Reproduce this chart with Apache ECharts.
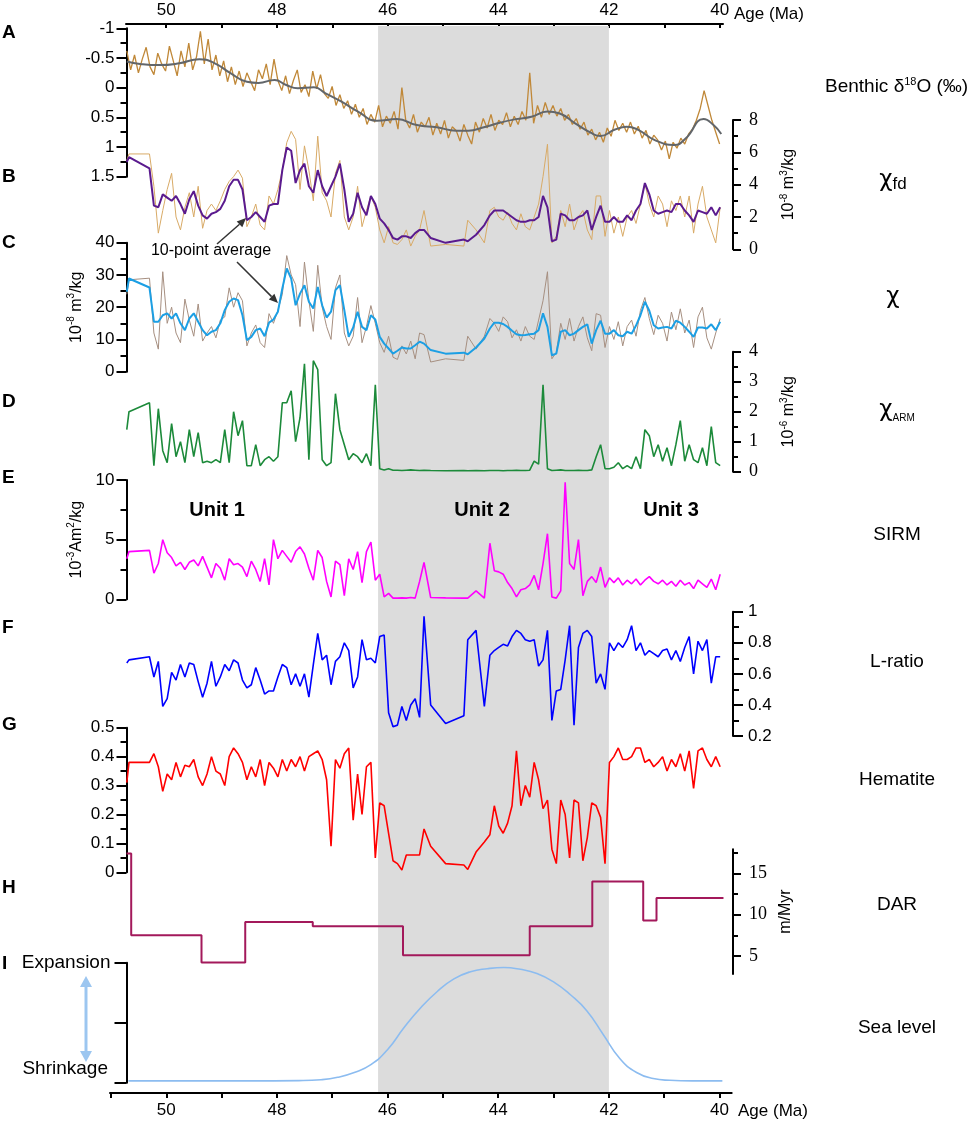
<!DOCTYPE html>
<html>
<head>
<meta charset="utf-8" />
<script src="https://cdn.jsdelivr.net/npm/echarts@6.0.0/dist/echarts.min.js"></script>
<style>
    body { margin: 0; background: #fff; }
    #main { width: 969px; height: 1124px; }
</style>
</head>
<body>
<div id="main"></div>
<script>
    // ---- shaded interval (Unit 2), Ma ----
    var shadeStart = 46.17, shadeEnd = 42.0;

    // ---- A: benthic d18O, sampled every 0.07 Ma from 50.71 ----
    var benthicStart = 50.71, benthicStep = 0.07;
    var benthicRaw = [
        -0.62, -0.30, -0.55, -0.25, -0.48, -0.68, -0.35, -0.22, -0.58, -0.40,
        -0.28, -0.70, -0.45, -0.20, -0.62, -0.35, -0.75, -0.30, -0.52, -0.95,
        -0.40, -0.82, -0.30, -0.55, -0.20, -0.45, -0.10, -0.35, -0.05, -0.28,
        -0.02, -0.25, -0.10, 0.05, -0.30, -0.15, -0.40, -0.05, -0.48, -0.12,
        0.05, -0.20, 0.10, -0.12, -0.30, 0.08, -0.05, 0.15, -0.28, 0.02,
        -0.22, 0.10, 0.18, -0.02, 0.30, 0.12, 0.35, 0.22, 0.45, 0.28,
        0.50, 0.35, 0.62, 0.45, 0.58, 0.30, 0.66, 0.48, 0.60, 0.40,
        0.70, 0.00, 0.55, 0.68, 0.45, 0.75, 0.58, 0.66, 0.50, 0.80,
        0.60, 0.78, 0.55, 0.85, 0.66, 0.72, 0.90, 0.62, 0.80, 0.95,
        0.58, 0.75, 0.52, 0.68, 0.45, 0.72, 0.55, 0.62, 0.42, 0.66,
        0.48, 0.62, 0.40, 0.55, -0.25, 0.60, 0.30, 0.50, 0.25, 0.45,
        0.30, 0.48, 0.35, 0.55, 0.45, 0.62, 0.52, 0.70, 0.58, 0.80,
        0.70, 0.88, 0.75, 0.92, 0.68, 0.82, 0.55, 0.72, 0.60, 0.75,
        0.58, 0.78, 0.65, 0.85, 0.72, 0.95, 0.80, 0.88, 1.05, 0.90,
        1.20, 0.92, 1.02, 0.85, 0.95, 0.78, 0.70, 0.55, 0.35, 0.05,
        0.30, 0.55, 0.75, 0.95
    ];
    var smoothAge = [50.71, 50.47, 50.12, 49.76, 49.40, 49.12, 48.83, 48.54, 48.33, 48.04,
        47.83, 47.62, 47.33, 47.12, 46.83, 46.54, 46.19, 45.83, 45.47, 45.11,
        44.76, 44.54, 44.26, 43.97, 43.68, 43.40, 43.11, 42.90, 42.61, 42.33,
        42.15, 41.90, 41.68, 41.47, 41.18, 40.82, 40.61, 40.29, 40.11, 39.97];
    var smoothVal = [-0.44, -0.40, -0.38, -0.41, -0.48, -0.41, -0.24, -0.10, -0.08, -0.13,
        -0.045, 0.01, -0.006, 0.095, 0.236, 0.40, 0.556, 0.53, 0.63, 0.668,
        0.724, 0.724, 0.668, 0.59, 0.53, 0.49, 0.40, 0.43, 0.60, 0.758,
        0.814, 0.71, 0.657, 0.71, 0.88, 0.966, 0.853, 0.53, 0.63, 0.78];

    // ---- B-G: magnetic parameters, shared sample ages (Ma) ----
    var magAge = [50.71, 50.67, 50.30,
        50.22, 50.14, 50.06, 49.98, 49.90, 49.82, 49.74, 49.66, 49.58, 49.50,
        49.42, 49.34, 49.26, 49.18, 49.10, 49.02, 48.94, 48.86, 48.78, 48.70,
        48.62, 48.54, 48.46, 48.38, 48.30, 48.22, 48.14, 48.06, 47.98, 47.90,
        47.82, 47.74, 47.66, 47.58, 47.50, 47.42, 47.34, 47.26, 47.18, 47.10,
        47.02, 46.94, 46.86, 46.78, 46.70, 46.62, 46.54, 46.46, 46.38, 46.30,
        46.22, 46.14, 46.06, 45.98, 45.90, 45.82, 45.74, 45.66, 45.58, 45.50,
        45.42, 45.34,
        45.22, 44.95, 44.62, 44.55, 44.40, 44.25, 44.15,
        44.07, 43.99, 43.91, 43.83, 43.75, 43.67, 43.59, 43.51, 43.43, 43.35,
        43.27, 43.19, 43.11, 43.03, 42.95, 42.87, 42.79, 42.71, 42.63, 42.55,
        42.47, 42.39, 42.31, 42.23, 42.15, 42.07, 41.99, 41.91, 41.83, 41.75,
        41.67, 41.59, 41.51, 41.43, 41.35, 41.27, 41.19, 41.11, 41.03, 40.95,
        40.87, 40.79, 40.71, 40.63, 40.55, 40.47, 40.39, 40.31, 40.23, 40.15,
        40.07, 39.99];

    var chiFdRaw = [5.5, 5.9, 5.9,
        3.9, 1.0, 2.4, 3.7, 4.7, 2.0, 1.2, 2.6, 3.5, 2.0,
        3.9, 1.3, 2.4, 2.8, 2.4, 3.0, 3.7, 4.2, 4.5, 4.9,
        4.4, 1.4, 2.0, 2.8, 1.5, 1.2, 3.3, 2.8, 3.7, 4.9,
        6.6, 7.3, 6.8, 3.7, 6.4, 4.9, 3.0, 7.0, 3.5, 3.0,
        2.0, 4.7, 5.5, 2.0, 1.2, 2.0, 3.9, 1.4, 2.4, 3.3,
        2.6, 1.2, 0.4, 1.4, 0.4, 0.3, 0.6, 1.2, 0.2, 0.8,
        1.2, 2.4,
        0.2, 0.3, 0.2, 1.8, 1.2, 0.4, 2.4,
        2.6, 2.0, 1.8, 2.3, 1.6, 1.2, 2.2, 1.4, 1.2, 2.0,
        2.8, 4.5, 6.5, 0.4, 0.8, 2.4, 1.4, 2.8, 1.2, 2.0,
        2.4, 1.2, 0.6, 3.3, 3.3, 0.8, 2.4, 1.0, 2.0, 0.8,
        2.0, 2.4, 1.6, 2.8, 4.1, 2.8, 2.0, 3.3, 2.8, 1.4,
        3.0, 2.4, 3.3, 2.0, 3.3, 1.0, 2.8, 3.9, 2.0, 1.2,
        0.4, 2.6];
    var chiFdAvg = [5.4, 5.7, 5.0,
        2.7, 2.6, 3.4, 3.2, 3.0, 3.3, 2.8, 2.2, 3.1, 3.6,
        2.7, 2.1, 1.9, 2.2, 2.3, 2.5, 3.0, 3.9, 4.3, 4.3,
        3.7, 1.8, 2.0, 2.3, 2.0, 1.7, 2.7, 2.8, 2.8, 4.9,
        6.3, 6.1, 4.1, 4.9, 5.3, 3.9, 3.5, 4.9, 3.9, 3.3,
        3.9, 4.5, 5.3, 3.7, 1.7, 2.2, 3.5, 2.6, 2.1, 3.3,
        2.8, 1.9, 1.6, 1.2, 0.7, 0.6, 0.8, 0.8, 0.7, 1.0,
        1.2, 1.2,
        0.7, 0.4, 0.6, 0.5, 0.9, 1.5, 2.1,
        2.4, 2.4, 2.4, 2.2, 2.0, 1.8, 1.7, 1.7, 1.8, 1.8,
        2.0, 3.3, 2.6, 0.5, 0.6, 2.2, 2.1, 1.8, 1.8, 2.0,
        2.1, 2.4, 1.2, 2.0, 2.7, 1.7, 1.7, 2.0, 1.7, 1.7,
        2.1, 1.8, 2.4, 2.8, 4.1, 3.4, 2.4, 2.2, 2.3, 2.4,
        2.3, 2.8, 2.8, 2.4, 2.1, 1.7, 2.4, 2.3, 2.2, 2.6,
        2.1, 2.6];

    var chiRaw = [24.0, 28.5, 29.0,
        12.0, 7.0, 31.0, 15.0, 20.0, 12.0, 9.0, 22.5, 16.0, 11.0,
        21.0, 9.5, 12.0, 14.0, 10.5, 16.0, 17.0, 26.0, 20.0, 24.5,
        22.0, 8.0, 12.0, 14.5, 9.0, 7.5, 18.0, 15.0, 19.0, 24.0,
        36.0, 30.0, 27.0, 14.0, 34.0, 22.0, 12.5, 33.0, 20.0, 14.0,
        10.0, 26.0, 30.0, 12.0, 8.0, 11.0, 23.0, 9.0, 14.0, 20.5,
        15.0, 9.0, 6.0, 11.0, 4.5, 3.8, 8.0, 5.5, 9.5, 4.0,
        12.0, 11.5,
        3.0, 4.0, 3.5, 11.0, 7.0, 11.0, 16.5,
        15.0, 12.5, 17.0, 15.5, 10.5, 13.0, 9.5, 14.0, 11.0, 10.0,
        16.0, 22.0, 31.0, 4.0, 6.0, 15.0, 10.0, 16.5, 9.5, 14.0,
        17.0, 10.5, 6.5, 18.0, 17.5, 7.5, 14.0, 10.0, 15.5, 8.0,
        14.0, 16.0, 11.0, 19.0, 23.0, 16.5, 11.5, 17.5, 15.0, 9.5,
        18.5, 13.0, 19.5, 12.0, 16.0, 7.5, 17.0, 20.0, 10.5, 7.0,
        12.0, 16.5];
    var chiAvg = [24.8, 28.9, 26.1,
        15.5, 15.5, 17.5, 18.1, 16.5, 18.1, 15.0, 12.9, 16.5, 18.1,
        15.5, 12.9, 11.3, 12.4, 12.9, 15.0, 19.1, 21.7, 22.7, 22.2,
        17.5, 9.8, 10.8, 12.9, 13.4, 11.0, 15.2, 16.2, 18.6, 25.8,
        32.0, 28.9, 20.6, 24.2, 26.8, 21.7, 19.6, 26.3, 20.6, 16.8,
        18.6, 25.3, 26.8, 19.1, 10.8, 13.7, 18.6, 13.9, 12.9, 17.5,
        16.2, 10.8, 8.7, 7.2, 5.6, 6.5, 7.5, 7.2, 7.2, 8.2,
        9.3, 8.7,
        6.7, 5.6, 5.9, 5.4, 7.5, 10.3, 13.4,
        15.2, 15.2, 14.8, 13.9, 12.7, 11.6, 11.3, 11.4, 11.6, 11.8,
        12.9, 18.1, 13.9, 5.1, 5.6, 12.4, 12.9, 11.3, 11.8, 12.9,
        13.9, 14.7, 8.7, 12.9, 15.8, 11.8, 11.8, 12.9, 11.3, 11.0,
        12.4, 11.8, 14.3, 17.5, 21.7, 18.9, 14.4, 13.4, 13.7, 13.9,
        13.4, 15.8, 15.2, 13.9, 12.4, 10.8, 13.7, 13.7, 13.4, 14.7,
        12.9, 15.5];

    var chiArm = [1.4, 2.0, 2.3,
        0.2, 2.1, 0.7, 0.3, 1.6, 0.5, 1.0, 0.3, 1.4, 0.5,
        1.3, 0.3, 0.35, 0.3, 0.4, 0.3, 1.4, 0.3, 2.0, 1.2,
        1.7, 0.2, 0.2, 0.9, 0.2, 0.4, 0.5, 0.35, 0.5, 2.3,
        2.3, 2.7, 1.0, 1.8, 3.6, 0.4, 3.7, 3.4, 0.4, 0.2,
        0.3, 2.6, 1.4, 0.9, 0.4, 0.6, 0.5, 0.3, 0.6, 0.2,
        2.9, 0.1, 0.06, 0.1, 0.05, 0.05, 0.04, 0.05, 0.06, 0.05,
        0.04, 0.05,
        0.04, 0.03, 0.04, 0.03, 0.04, 0.03, 0.04,
        0.04, 0.04, 0.03, 0.04, 0.04, 0.05, 0.04, 0.04, 0.05, 0.35,
        0.25, 2.9, 0.1, 0.04, 0.05, 0.06, 0.04, 0.04, 0.04, 0.05,
        0.04, 0.04, 0.06, 0.5, 0.9, 0.1, 0.1, 0.15, 0.3, 0.1,
        0.2, 0.1, 0.5, 0.1, 1.4, 1.2, 0.5, 0.9, 0.35, 0.8,
        0.2, 0.9, 1.7, 0.35, 0.9, 0.4, 0.3, 0.8, 0.2, 1.5,
        0.3, 0.2];

    var sirm = [3.4, 4.0, 4.1,
        2.2, 3.0, 5.0, 3.9, 3.5, 2.8, 3.1, 2.5, 3.1, 3.3,
        2.8, 3.6, 2.7, 1.8, 3.0, 2.6, 1.6, 3.4, 2.9, 3.0,
        2.7, 1.9, 3.2, 2.5, 1.5, 3.4, 1.2, 5.0, 3.4, 4.1,
        3.6, 3.1, 4.0, 4.4, 3.8, 2.6, 1.6, 4.1, 3.5, 1.5,
        0.2, 3.2, 2.9, 0.3, 3.4, 2.5, 4.0, 1.4, 4.0, 4.8,
        1.6, 2.1, 0.2, 0.5, 0.1, 0.1, 0.12, 0.1, 0.15, 0.1,
        1.5, 3.1,
        0.15, 0.12, 0.1, 0.1, 0.7, 0.1, 4.7,
        2.4, 2.3, 2.1, 1.4, 0.9, 0.2, 0.8, 0.9, 1.2, 2.0,
        0.8, 3.0, 5.5, 0.2, 0.1, 0.7, 9.8, 3.0, 2.5, 5.0,
        0.3, 1.5, 1.9, 1.4, 2.7, 1.0, 1.8, 1.4, 1.8, 1.2,
        1.6, 1.3, 1.7, 1.2, 1.6, 1.9, 1.5, 1.3, 1.6, 1.2,
        1.5, 1.1, 1.6, 1.2, 1.4, 0.9, 1.6, 1.3, 1.0, 1.7,
        0.8, 2.1];

    var lRatio = [0.67, 0.69, 0.71,
        0.58, 0.68, 0.39, 0.44, 0.61, 0.56, 0.66, 0.58, 0.67, 0.66,
        0.55, 0.45, 0.54, 0.68, 0.52, 0.58, 0.66, 0.62, 0.69, 0.67,
        0.56, 0.51, 0.53, 0.64, 0.56, 0.47, 0.49, 0.49, 0.58, 0.66,
        0.64, 0.53, 0.60, 0.52, 0.60, 0.45, 0.66, 0.86, 0.69, 0.72,
        0.53, 0.68, 0.71, 0.80, 0.75, 0.51, 0.58, 0.82, 0.69, 0.70,
        0.67, 0.84, 0.85, 0.35, 0.26, 0.27, 0.39, 0.30, 0.40, 0.44,
        0.32, 0.97,
        0.40, 0.28, 0.33, 0.82, 0.88, 0.39, 0.72,
        0.75, 0.77, 0.79, 0.78, 0.84, 0.88, 0.86, 0.82, 0.81, 0.82,
        0.65, 0.69, 0.88, 0.30, 0.49, 0.50, 0.69, 0.91, 0.27, 0.77,
        0.86, 0.88, 0.84, 0.54, 0.60, 0.50, 0.80, 0.75, 0.80, 0.77,
        0.82, 0.91, 0.75, 0.80, 0.72, 0.75, 0.73, 0.71, 0.75, 0.76,
        0.69, 0.75, 0.68, 0.77, 0.84, 0.60, 0.81, 0.75, 0.82, 0.54,
        0.71, 0.71];

    var hematite = [0.31, 0.38, 0.38,
        0.41, 0.365, 0.28, 0.34, 0.32, 0.38, 0.33, 0.37, 0.365, 0.39,
        0.33, 0.30, 0.34, 0.40, 0.35, 0.34, 0.30, 0.40, 0.43, 0.41,
        0.38, 0.32, 0.365, 0.33, 0.39, 0.30, 0.38, 0.36, 0.33, 0.39,
        0.35, 0.39, 0.365, 0.40, 0.35, 0.40, 0.41, 0.42, 0.39, 0.32,
        0.09, 0.39, 0.36, 0.41, 0.43, 0.18, 0.34, 0.20, 0.365, 0.38,
        0.05, 0.24, 0.23, 0.135, 0.04, 0.03, 0.008, 0.06, 0.06, 0.06,
        0.06, 0.15,
        0.09, 0.03, 0.025, 0.01, 0.07, 0.105, 0.13,
        0.23, 0.16, 0.135, 0.17, 0.23, 0.42, 0.23, 0.30, 0.26, 0.38,
        0.32, 0.22, 0.25, 0.08, 0.03, 0.25, 0.20, 0.05, 0.25, 0.24,
        0.04, 0.12, 0.24, 0.23, 0.19, 0.03, 0.38, 0.40, 0.43, 0.39,
        0.39, 0.40, 0.43, 0.43, 0.38, 0.39, 0.365, 0.38, 0.40, 0.35,
        0.39, 0.365, 0.41, 0.35, 0.42, 0.29, 0.42, 0.43, 0.39, 0.365,
        0.40, 0.365];

    // ---- H: DAR (m/Myr), step changes ----
    var darAge = [50.715, 50.63, 49.36, 48.57, 47.35, 45.72, 43.43, 42.30, 41.38, 41.14, 39.93];
    var darRate = [17.4, 7.5, 4.2, 9.1, 8.6, 5.1, 8.6, 14.0, 9.3, 12.0, 12.0];

    // ---- I: relative sea level (0 shrinkage .. 2 expansion) ----
    var seaAge = [50.68, 49.5, 48.5, 47.6, 47.2, 46.9, 46.6, 46.3, 46.0, 45.7, 45.4, 45.1, 44.8, 44.5,
        44.2, 43.9, 43.6, 43.3, 43.0, 42.7, 42.4, 42.1, 41.8, 41.5, 41.2, 40.9, 40.5, 39.95];
    var seaLevel = [0.03, 0.03, 0.03, 0.035, 0.05, 0.09, 0.17, 0.30, 0.55, 0.92, 1.25, 1.52, 1.73, 1.85,
        1.90, 1.92, 1.89, 1.82, 1.68, 1.47, 1.20, 0.80, 0.40, 0.17, 0.07, 0.04, 0.03, 0.03];

    var topTicks = [40, 41, 42, 43, 44, 45, 46, 47, 48, 49, 50];
    var bottomTicks = [40, 41, 42, 43, 44, 45, 46, 47, 48, 49, 50, 51];
    var ageLabels = [40, 42, 44, 46, 48, 50];

    var SANS = 'Liberation Sans, Arial, sans-serif';
    var SERIF = 'Liberation Serif, Times New Roman, serif';
    var GREEK = 'DejaVu Sans, sans-serif';

    var benthicAge = benthicRaw.map(function (v, i) { return +(benthicStart - i * benthicStep).toFixed(2); });

    function pairs(ages, vals) {
        return ages.map(function (a, i) { return [a, vals[i]]; });
    }

    // panel plot area (x) shared by all panels
    var PL = 126.5, PW = 606.5, X_MIN = 39.758, X_MAX = 50.715;

    var panels = [
        // top, height
        [26, 1066],      // 0 shading
        [24, 10],        // 1 top age axis
        [1083, 10],      // 2 bottom age axis
        [28.3, 148.4],   // 3 A
        [120, 129.3],    // 4 B
        [242.7, 129],    // 5 C
        [351.7, 120],    // 6 D
        [480, 119.3],    // 7 E
        [611.7, 124.3],  // 8 F
        [727.7, 144.6],  // 9 G
        [849.3, 124.7],  // 10 H
        [962.7, 120]     // 11 I
    ];
    var grids = panels.map(function (p, i) {
        var g = { left: PL, top: p[0], width: PW, height: p[1] };
        if (i === 1) { g.left = 126; g.width = 597; }
        if (i === 2) { g.left = 110; g.width = 621.7; }
        return g;
    });

    var xAxes = panels.map(function (p, i) {
        return { gridIndex: i, type: 'value', min: X_MIN, max: X_MAX, inverse: true, show: false };
    });
    xAxes[1] = {
        gridIndex: 1, type: 'value', position: 'top', min: 39.942, max: 50.726, inverse: true,
        axisLine: { show: true, onZero: false, lineStyle: { color: '#000', width: 2 } },
        axisTick: { show: true, inside: true, length: 4, customValues: topTicks, lineStyle: { color: '#000', width: 2 } },
        axisLabel: { customValues: ageLabels, color: '#000', fontSize: 17, fontFamily: SANS, margin: 5 },
        splitLine: { show: false }
    };
    xAxes[2] = {
        gridIndex: 2, type: 'value', position: 'bottom', min: 39.78, max: 51.017, inverse: true,
        axisLine: { show: true, onZero: false, lineStyle: { color: '#000', width: 2 } },
        axisTick: { show: true, length: 5, customValues: bottomTicks, lineStyle: { color: '#000', width: 2 } },
        axisLabel: { customValues: ageLabels, color: '#000', fontSize: 17, fontFamily: SANS, margin: 9 },
        splitLine: { show: false }
    };

    var supRich = {
        n: { fontSize: 16, lineHeight: 20, fontFamily: SANS, color: '#000' },
        s: { fontSize: 10, lineHeight: 10, verticalAlign: 'top', fontFamily: SANS, color: '#000' }
    };

    function yax(p) {
        return {
            gridIndex: p.grid, type: 'value', position: p.pos || 'left',
            min: p.min, max: p.max, interval: p.interval, inverse: !!p.inverse,
            name: p.name || '', nameLocation: 'middle', nameRotate: 90, nameGap: p.nameGap || 40,
            nameTextStyle: { color: '#000', fontFamily: SANS, fontSize: 16, rich: supRich },
            axisLine: { show: p.line !== false, onZero: false, lineStyle: { color: '#000', width: 2 } },
            axisTick: { show: p.tickShow !== false, length: p.tick || 8, customValues: p.ticks, lineStyle: { color: '#000', width: 2 } },
            minorTick: { show: p.minor !== false, splitNumber: 2, length: p.minorLen || 5, lineStyle: { color: '#000', width: 2 } },
            axisLabel: {
                show: p.label !== false, color: '#000', fontFamily: p.font || SANS, fontSize: p.fontSize || 17,
                margin: p.margin || 12, customValues: p.labels, formatter: p.formatter
            },
            splitLine: { show: false }, minorSplitLine: { show: false }
        };
    }

    var dummyY = function (g) { return { gridIndex: g, type: 'value', min: 0, max: 1, show: false }; };
    var yAxes = [
        dummyY(0), dummyY(1), dummyY(2),
        yax({ grid: 3, min: -1, max: 1.5, interval: 0.5, inverse: true, tick: 10, minorLen: 6, margin: 12 }),
        yax({ grid: 4, pos: 'right', min: 0, max: 8, interval: 2, font: SERIF, fontSize: 18, margin: 16,
            name: '{n|10}{s|-8}{n| m}{s|3}{n|/kg}', nameGap: 46 }),
        yax({ grid: 5, min: 0, max: 40, interval: 10, tick: 10, minorLen: 6,
            name: '{n|10}{s|-8}{n| m}{s|3}{n|/kg}', nameGap: 38 }),
        yax({ grid: 6, pos: 'right', min: 0, max: 4, interval: 1, font: SERIF, fontSize: 18, margin: 16,
            name: '{n|10}{s|-6}{n| m}{s|3}{n|/kg}', nameGap: 46 }),
        yax({ grid: 7, min: 0, max: 10, interval: 5, tick: 10, minorLen: 6,
            name: '{n|10}{s|-3}{n|Am}{s|2}{n|/kg}', nameGap: 38 }),
        yax({ grid: 8, pos: 'right', min: 0.2, max: 1, interval: 0.2, tick: 10, minorLen: 6, margin: 15 }),
        yax({ grid: 9, min: 0, max: 0.5, interval: 0.1, tick: 10, minorLen: 6 }),
        yax({ grid: 10, pos: 'right', min: 2.82, max: 17.9, minor: false, ticks: [5, 10, 15], labels: [5, 10, 15],
            font: SERIF, fontSize: 18, margin: 16, name: 'm/Myr', nameGap: 44 }),
        yax({ grid: 11, min: 0, max: 2, interval: 1, minor: false, tick: 12, margin: 16, fontSize: 19,
            formatter: function (v) { return v === 2 ? 'Expansion' : ''; } }),
        // H minor ticks
        yax({ grid: 10, pos: 'right', min: 2.82, max: 17.9, minor: false, ticks: [7.5, 12.5, 17.5],
            tick: 5, line: false, label: false })
    ];

    function lineSeries(g, data, color, width, extra) {
        var s = {
            type: 'line', xAxisIndex: g, yAxisIndex: g, data: data, symbol: 'none', z: 3,
            lineStyle: { color: color, width: width }, silent: true
        };
        for (var k in extra) s[k] = extra[k];
        return s;
    }

    var series = [
        {
            type: 'line', xAxisIndex: 0, yAxisIndex: 0, data: [], z: 1, silent: true,
            markArea: { silent: true, itemStyle: { color: '#dcdcdc' }, data: [[{ xAxis: shadeStart }, { xAxis: shadeEnd }]] }
        },
        lineSeries(3, pairs(benthicAge, benthicRaw), '#c08838', 1.3),
        lineSeries(3, pairs(smoothAge, smoothVal), '#62666a', 2, { smooth: true }),
        lineSeries(4, pairs(magAge, chiFdRaw), '#d8aa66', 1),
        lineSeries(4, pairs(magAge, chiFdAvg), '#5a1a8e', 2),
        lineSeries(5, pairs(magAge, chiRaw), '#a68f80', 1),
        lineSeries(5, pairs(magAge, chiAvg), '#1c9fe4', 2),
        lineSeries(6, pairs(magAge, chiArm), '#1c8a3a', 1.6),
        lineSeries(7, pairs(magAge, sirm), '#ff00ff', 1.6),
        lineSeries(8, pairs(magAge, lRatio), '#0000ff', 1.6),
        lineSeries(9, pairs(magAge, hematite), '#ff0000', 1.6),
        lineSeries(10, pairs(darAge, darRate), '#a3195b', 2, { step: 'end' }),
        lineSeries(11, pairs(seaAge, seaLevel), '#8cbcf0', 1.6, { smooth: true })
    ];

    function label(x, y, text, opt) {
        var st = { text: text, fill: '#000', fontSize: 19, fontFamily: SANS, align: 'center', verticalAlign: 'middle' };
        for (var k in opt) st[k] = opt[k];
        return { type: 'text', x: x, y: y, z: 10, silent: true, style: st };
    }
    var letterOpt = { fontSize: 19, fontWeight: 'bold', align: 'left' };
    var chiRich = {
        c: { fontSize: 23, lineHeight: 26, fontFamily: GREEK, color: '#000' },
        d: { fontSize: 17, lineHeight: 15, verticalAlign: 'bottom', fontFamily: SANS, color: '#000' },
        e: { fontSize: 10, lineHeight: 11, verticalAlign: 'bottom', fontFamily: SANS, color: '#000' }
    };
    var benthicRich = {
        n: { fontSize: 19, lineHeight: 22, fontFamily: SANS, color: '#000' },
        s: { fontSize: 11, lineHeight: 10, verticalAlign: 'top', fontFamily: SANS, color: '#000' }
    };

    var graphics = [
        label(2, 33, 'A', letterOpt), label(2, 177, 'B', letterOpt), label(2, 243, 'C', letterOpt),
        label(2, 402, 'D', letterOpt), label(2, 478, 'E', letterOpt), label(2, 628, 'F', letterOpt),
        label(2, 725, 'G', letterOpt), label(2, 888, 'H', letterOpt), label(2, 964, 'I', letterOpt),

        label(825, 87, '{n|Benthic δ}{s|18}{n|O (‰)}', { align: 'left', rich: benthicRich }),
        label(893, 180, '{c|χ}{d|fd}', { rich: chiRich }),
        label(893, 297, '{c|χ}', { rich: chiRich }),
        label(897, 410, '{c|χ}{e|ARM}', { rich: chiRich }),
        label(897, 535, 'SIRM'),
        label(897, 662, 'L-ratio'),
        label(897, 780, 'Hematite'),
        label(897, 905, 'DAR'),
        label(897, 1028, 'Sea level'),

        label(217, 510, 'Unit 1', { fontSize: 20, fontWeight: 'bold' }),
        label(482, 510, 'Unit 2', { fontSize: 20, fontWeight: 'bold' }),
        label(671, 510, 'Unit 3', { fontSize: 20, fontWeight: 'bold' }),

        label(734, 14, 'Age (Ma)', { align: 'left', fontSize: 17 }),
        label(738, 1111, 'Age (Ma)', { align: 'left', fontSize: 17 }),
        label(108, 1069, 'Shrinkage', { align: 'right' }),

        label(211, 251, '10-point average', { fontSize: 16 }),
        { type: 'line', silent: true, z: 10, shape: { x1: 217, y1: 244, x2: 239.5, y2: 224.3 }, style: { stroke: '#333', lineWidth: 1.5 } },
        { type: 'polygon', silent: true, z: 10, shape: { points: [[246, 218], [242.3, 227.2], [236.7, 221.4]] }, style: { fill: '#333' } },
        { type: 'line', silent: true, z: 10, shape: { x1: 237, y1: 262, x2: 271.6, y2: 296.6 }, style: { stroke: '#333', lineWidth: 1.5 } },
        { type: 'polygon', silent: true, z: 10, shape: { points: [[278, 303], [268.8, 299.4], [274.4, 293.8]] }, style: { fill: '#333' } },

        { type: 'line', silent: true, z: 10, shape: { x1: 86, y1: 984, x2: 86, y2: 1054 }, style: { stroke: '#9cc6f0', lineWidth: 3 } },
        { type: 'polygon', silent: true, z: 10, shape: { points: [[86, 976], [80, 987], [92, 987]] }, style: { fill: '#9cc6f0' } },
        { type: 'polygon', silent: true, z: 10, shape: { points: [[86, 1062], [80, 1051], [92, 1051]] }, style: { fill: '#9cc6f0' } }
    ];

    var chart = echarts.init(document.getElementById('main'));
    chart.setOption({
        animation: false,
        backgroundColor: '#fff',
        textStyle: { fontFamily: SANS },
        grid: grids,
        xAxis: xAxes,
        yAxis: yAxes,
        series: series,
        graphic: graphics
    });
</script>
</body>
</html>
